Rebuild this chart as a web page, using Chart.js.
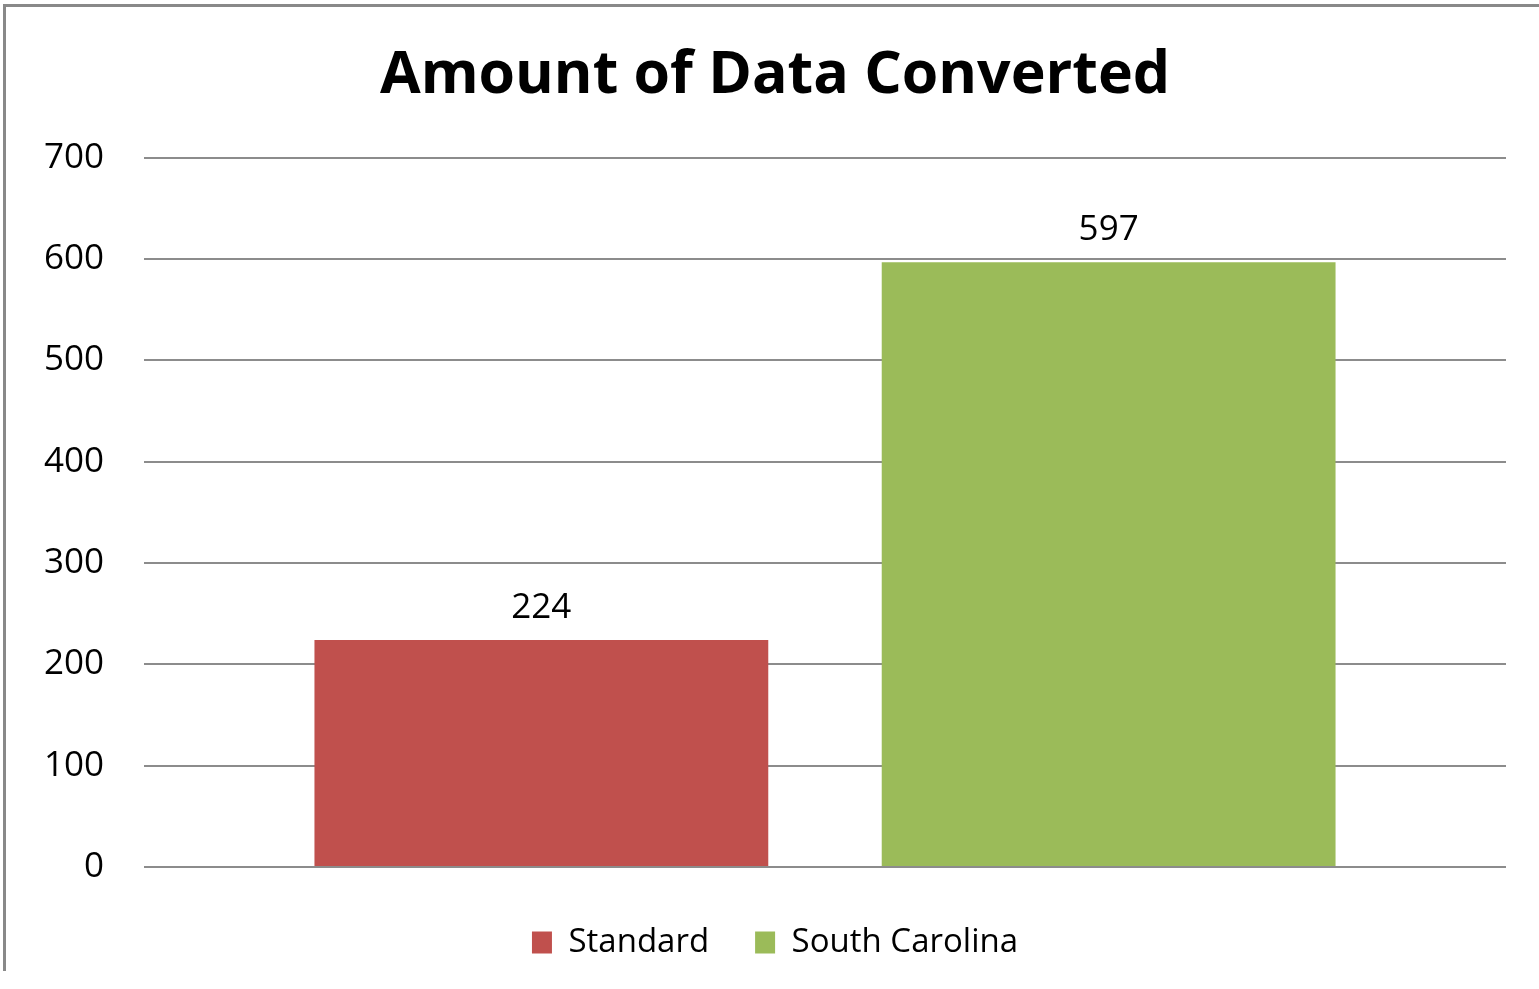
<!DOCTYPE html>
<html>
<head>
<meta charset="utf-8">
<title>Amount of Data Converted</title>
<script src="https://cdn.jsdelivr.net/npm/chart.js@4/dist/chart.umd.min.js"></script>
<style>
    html, body { margin: 0; padding: 0; background: #fff; overflow: hidden; }
    #frame {
        position: absolute; left: 3px; top: 4px; width: 1600px; height: 964px;
        border-left: 3px solid #898989; border-top: 3px solid #898989;
        pointer-events: none;
    }
    canvas { position: absolute; left: 0; top: 0; }
</style>
</head>
<body>
<div id="frame"></div>
<canvas id="dataChart" width="1539" height="989"></canvas>
<script>
// values
const categories = ["Amount of Data Converted"];
const seriesNames = ["Standard", "South Carolina"];
const standardValues = [224];
const southCarolinaValues = [597];
const yTicks = [0, 100, 200, 300, 400, 500, 600, 700];

const FONT = "'Open Sans', 'DejaVu Sans', sans-serif";

// draws the number above each bar
const barValueLabels = {
    id: "barValueLabels",
    afterDatasetsDraw(chart) {
        const ctx = chart.ctx;
        ctx.save();
        ctx.font = "35px " + FONT;
        ctx.fillStyle = "#000";
        ctx.textAlign = "center";
        ctx.textBaseline = "alphabetic";
        chart.data.datasets.forEach((ds, i) => {
            chart.getDatasetMeta(i).data.forEach((bar, j) => {
                ctx.fillText(String(ds.data[j]), bar.x, bar.y - 22);
            });
        });
        ctx.restore();
    }
};

new Chart(document.getElementById("dataChart").getContext("2d"), {
    type: "bar",
    data: {
        labels: categories,
        datasets: [{
            label: seriesNames[0],
            data: standardValues,
            backgroundColor: "#C0504D",
            borderWidth: 0
        }, {
            label: seriesNames[1],
            data: southCarolinaValues,
            backgroundColor: "#9BBB59",
            borderWidth: 0
        }]
    },
    options: {
        responsive: false,
        animation: false,
        devicePixelRatio: 1,
        categoryPercentage: 0.833,
        barPercentage: 0.8,
        layout: {
            padding: { top: 41, right: 33, bottom: 20, left: 44 }
        },
        plugins: {
            title: {
                display: true,
                text: "Amount of Data Converted",
                color: "#000",
                font: { family: FONT, size: 59, weight: "bold" },
                padding: { top: 0, bottom: 46 }
            },
            legend: {
                position: "bottom",
                labels: {
                    color: "#000",
                    font: { family: FONT, size: 33 },
                    boxWidth: 20,
                    boxHeight: 22,
                    padding: 46
                }
            },
            tooltip: { enabled: false }
        },
        scales: {
            x: {
                display: true,
                afterFit(scale) { scale.height = 13; },
                border: { display: false },
                grid: { display: false, drawTicks: false },
                ticks: { display: false }
            },
            y: {
                min: 0,
                max: 700,
                afterFit(scale) { scale.width = 100; },
                afterBuildTicks(scale) { scale.ticks = yTicks.map(v => ({ value: v })); },
                border: { display: false },
                grid: {
                    color: "#8c8c8c",
                    lineWidth: 2,
                    drawTicks: false
                },
                ticks: {
                    color: "#000",
                    padding: 40,
                    font: { family: FONT, size: 35 }
                }
            }
        }
    },
    plugins: [barValueLabels]
});
</script>
</body>
</html>
